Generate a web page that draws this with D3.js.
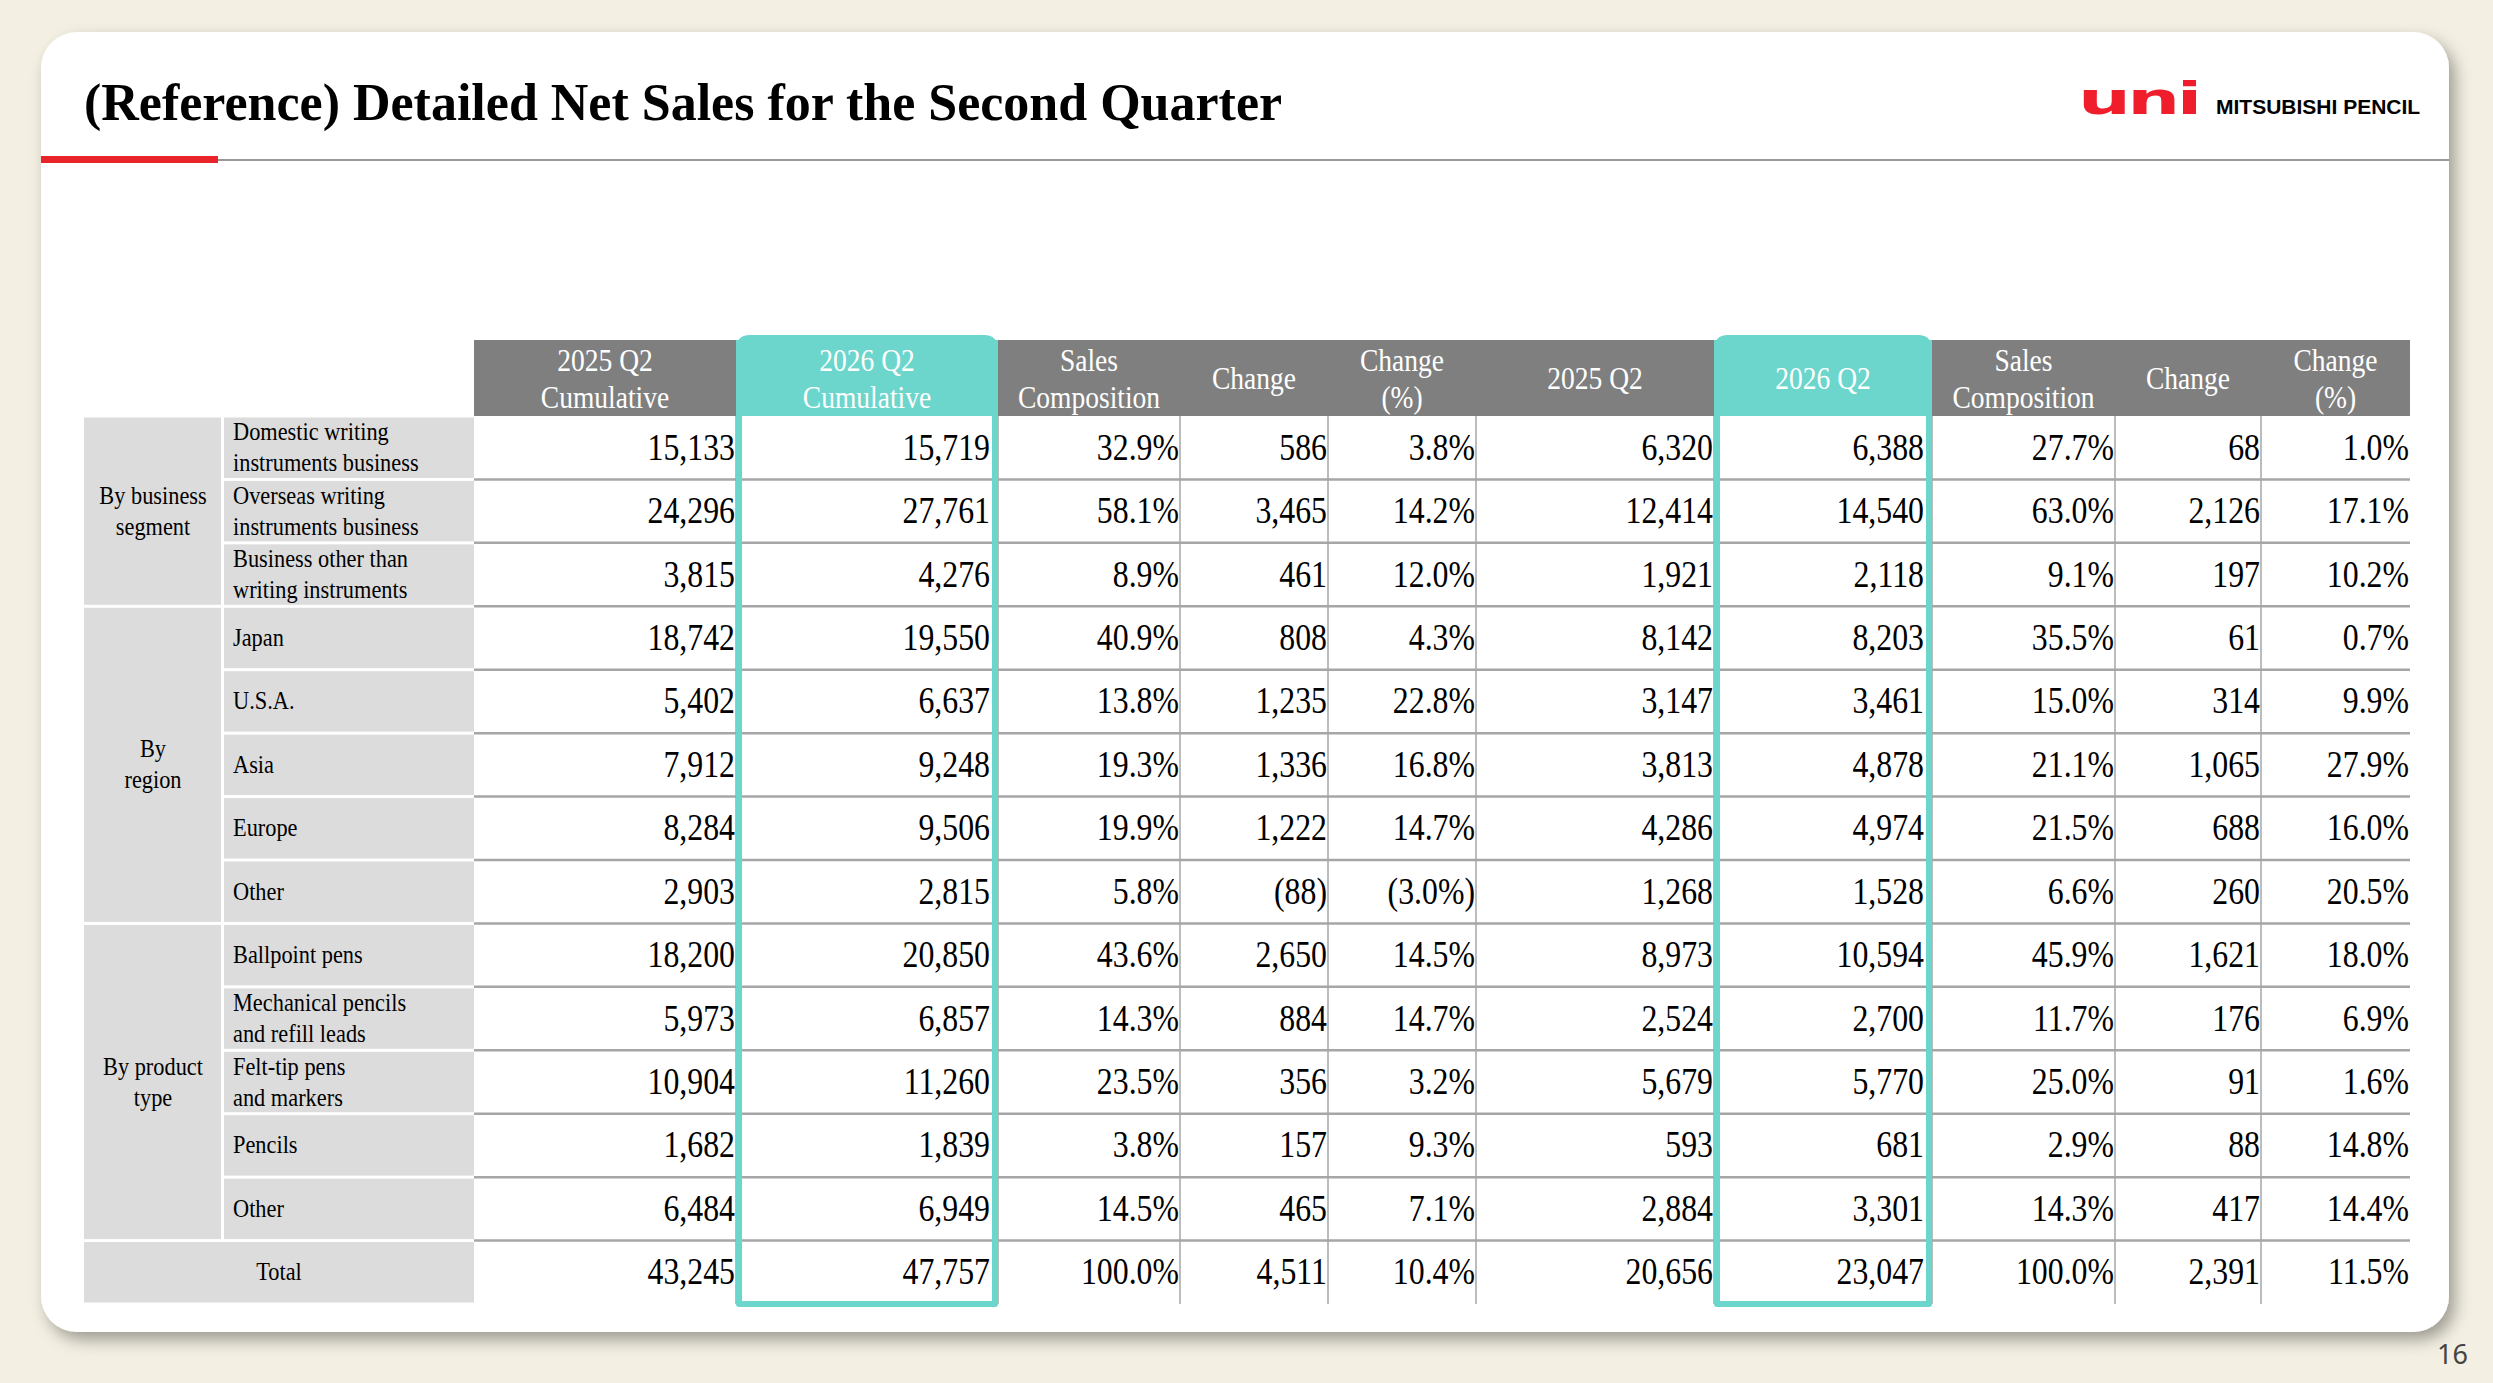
<!DOCTYPE html>
<html><head><meta charset="utf-8">
<script src="https://cdn.jsdelivr.net/npm/d3@7"></script>
<style>body{margin:0;background:#f3efe2;}svg{display:block}</style>
</head><body>
<svg id="c" width="2493" height="1383"></svg>
<script>
// Detailed net sales table
const svg = d3.select('#c');
const W = 2493, H = 1383;
const serif = '"Liberation Serif", "Times New Roman", serif';
const sx = 0.86; // condensed look

const defs = svg.append('defs');
const f = defs.append('filter').attr('id', 'sh').attr('x', '-5%').attr('y', '-5%').attr('width', '110%').attr('height', '110%');
f.append('feDropShadow').attr('dx', 6).attr('dy', 8).attr('stdDeviation', 8).attr('flood-color', '#000').attr('flood-opacity', 0.35);

svg.append('rect').attr('width', W).attr('height', H).attr('fill', '#f3efe2');
svg.append('rect').attr('x', 41).attr('y', 32).attr('width', 2408).attr('height', 1300).attr('rx', 36)
    .attr('fill', '#fff').attr('filter', 'url(#sh)');

function ctext(g, x, y, str, size, anchor, fill, weight) {
    return g.append('text').attr('transform', `translate(${x},${y}) scale(${sx},1)`)
        .attr('text-anchor', anchor).attr('font-family', serif).attr('font-size', size)
        .attr('fill', fill || '#000').attr('font-weight', weight || 'normal').text(str);
}
// title
svg.append('text').attr('x', 84).attr('y', 120).attr('font-family', serif).attr('font-size', 52)
    .attr('font-weight', 'bold').text('(Reference) Detailed Net Sales for the Second Quarter');
svg.append('line').attr('x1', 218).attr('x2', 2449).attr('y1', 160).attr('y2', 160).attr('stroke', '#999').attr('stroke-width', 2);
svg.append('rect').attr('x', 41).attr('y', 156).attr('width', 177).attr('height', 7).attr('fill', '#e8242a');

// logo
svg.append('text').attr('font-family', '"DejaVu Sans", sans-serif')
    .attr('font-weight', 'bold').attr('font-size', 62).attr('fill', '#f01e2c').attr('letter-spacing', -3)
    .attr('transform', 'translate(2078,114) scale(1.2,0.72)').text('uni');
svg.append('text').attr('x', 2216).attr('y', 114).attr('font-family', '"Liberation Sans", Arial, sans-serif')
    .attr('font-size', 21).attr('font-weight', 'bold').text('MITSUBISHI PENCIL');
svg.append('text').attr('x', 2468).attr('y', 1364).attr('text-anchor', 'end').attr('font-family', '"Noto Sans", sans-serif')
    .attr('font-size', 27).attr('fill', '#444').text('16');

// data
const headers = ['2025 Q2\nCumulative', '2026 Q2\nCumulative', 'Sales\nComposition', 'Change', 'Change\n(%)',
    '2025 Q2', '2026 Q2', 'Sales\nComposition', 'Change', 'Change\n(%)'];
const rows = [
    {label: 'Domestic writing\ninstruments business', v: ['15,133','15,719','32.9%','586','3.8%','6,320','6,388','27.7%','68','1.0%']},
    {label: 'Overseas writing\ninstruments business', v: ['24,296','27,761','58.1%','3,465','14.2%','12,414','14,540','63.0%','2,126','17.1%']},
    {label: 'Business other than\nwriting instruments', v: ['3,815','4,276','8.9%','461','12.0%','1,921','2,118','9.1%','197','10.2%']},
    {label: 'Japan', v: ['18,742','19,550','40.9%','808','4.3%','8,142','8,203','35.5%','61','0.7%']},
    {label: 'U.S.A.', v: ['5,402','6,637','13.8%','1,235','22.8%','3,147','3,461','15.0%','314','9.9%']},
    {label: 'Asia', v: ['7,912','9,248','19.3%','1,336','16.8%','3,813','4,878','21.1%','1,065','27.9%']},
    {label: 'Europe', v: ['8,284','9,506','19.9%','1,222','14.7%','4,286','4,974','21.5%','688','16.0%']},
    {label: 'Other', v: ['2,903','2,815','5.8%','(88)','(3.0%)','1,268','1,528','6.6%','260','20.5%']},
    {label: 'Ballpoint pens', v: ['18,200','20,850','43.6%','2,650','14.5%','8,973','10,594','45.9%','1,621','18.0%']},
    {label: 'Mechanical pencils\nand refill leads', v: ['5,973','6,857','14.3%','884','14.7%','2,524','2,700','11.7%','176','6.9%']},
    {label: 'Felt-tip pens\nand markers', v: ['10,904','11,260','23.5%','356','3.2%','5,679','5,770','25.0%','91','1.6%']},
    {label: 'Pencils', v: ['1,682','1,839','3.8%','157','9.3%','593','681','2.9%','88','14.8%']},
    {label: 'Other', v: ['6,484','6,949','14.5%','465','7.1%','2,884','3,301','14.3%','417','14.4%']},
    {grp: 'Total', label: null, v: ['43,245','47,757','100.0%','4,511','10.4%','20,656','23,047','100.0%','2,391','11.5%']}
];
const groups = [{name: 'By business\nsegment', start: 0, n: 3}, {name: 'By\nregion', start: 3, n: 5}, {name: 'By product\ntype', start: 8, n: 5}];

const edges = [84, 224, 474, 736, 998, 1180, 1328, 1476, 1714, 1932, 2115, 2261, 2410];
const headTop = 340, headBot = 416, tableBot = 1304;
const y = d3.scaleBand().domain(d3.range(rows.length)).range([headBot, tableBot]);
const hi = [1, 6];
const t = 6;

const g = svg.append('g');
headers.forEach((h, i) => {
    const x0 = edges[i + 2], x1 = edges[i + 3];
    g.append('rect').attr('x', x0).attr('y', headTop).attr('width', x1 - x0).attr('height', headBot - headTop)
        .attr('fill', hi.includes(i) ? '#6cd6cc' : '#7f7f7f');
    const lines = h.split('\n');
    lines.forEach((l, k) => ctext(g, (x0 + x1) / 2, (headTop + headBot) / 2 + 11 + (k - (lines.length - 1) / 2) * 37, l, 32, 'middle', '#fff'));
});

const gap = 3;
groups.forEach(gr => {
    const y0 = y(gr.start), y1 = y(gr.start + gr.n - 1) + y.bandwidth();
    g.append('rect').attr('x', edges[0]).attr('y', y0 + gap / 2).attr('width', edges[1] - edges[0] - gap).attr('height', y1 - y0 - gap).attr('fill', '#dcdcdc');
    const lines = gr.name.split('\n');
    lines.forEach((l, k) => ctext(g, (edges[0] + edges[1]) / 2 - 1, (y0 + y1) / 2 + 8 + (k - (lines.length - 1) / 2) * 31, l, 26, 'middle'));
});
rows.forEach((r, i) => {
    const y0 = y(i), bh = y.bandwidth();
    if (r.label) {
        g.append('rect').attr('x', edges[1]).attr('y', y0 + gap / 2).attr('width', edges[2] - edges[1]).attr('height', bh - gap).attr('fill', '#dcdcdc');
        const lines = r.label.split('\n');
        lines.forEach((l, k) => ctext(g, edges[1] + 9, y0 + bh / 2 + 8 + (k - (lines.length - 1) / 2) * 31, l, 26, 'start'));
    } else {
        g.append('rect').attr('x', edges[0]).attr('y', y0 + gap / 2).attr('width', edges[2] - edges[0]).attr('height', bh - gap).attr('fill', '#dcdcdc');
        ctext(g, (edges[0] + edges[2]) / 2, y0 + bh / 2 + 8, r.grp, 26, 'middle');
    }
    if (i < rows.length - 1)
        g.append('line').attr('x1', edges[2]).attr('x2', edges[12]).attr('y1', y0 + bh).attr('y2', y0 + bh).attr('stroke', '#a6a6a6').attr('stroke-width', 2.5);
    r.v.forEach((v, j) => {
        const xr = edges[j + 3] - (hi.includes(j) ? t + 2 : 1);
        ctext(g, xr, y0 + bh / 2 + 12, v, 37, 'end');
    });
});
edges.slice(3, 12).forEach(x => g.append('line').attr('x1', x).attr('x2', x).attr('y1', headBot).attr('y2', tableBot).attr('stroke', '#a6a6a6').attr('stroke-width', 1.5));

// highlight frames
hi.forEach(i => {
    const x0 = edges[i + 2], x1 = edges[i + 3];
    g.append('path')
        .attr('d', `M${x0 + t / 2},${tableBot} V${headTop + 10} Q${x0 + t / 2},${headTop - 2} ${x0 + 14},${headTop - 2} H${x1 - 14} Q${x1 - t / 2},${headTop - 2} ${x1 - t / 2},${headTop + 10} V${tableBot} Z`)
        .attr('fill', 'none').attr('stroke', '#6cd6cc').attr('stroke-width', t).attr('stroke-linejoin', 'round');
});
</script>
</body></html>
